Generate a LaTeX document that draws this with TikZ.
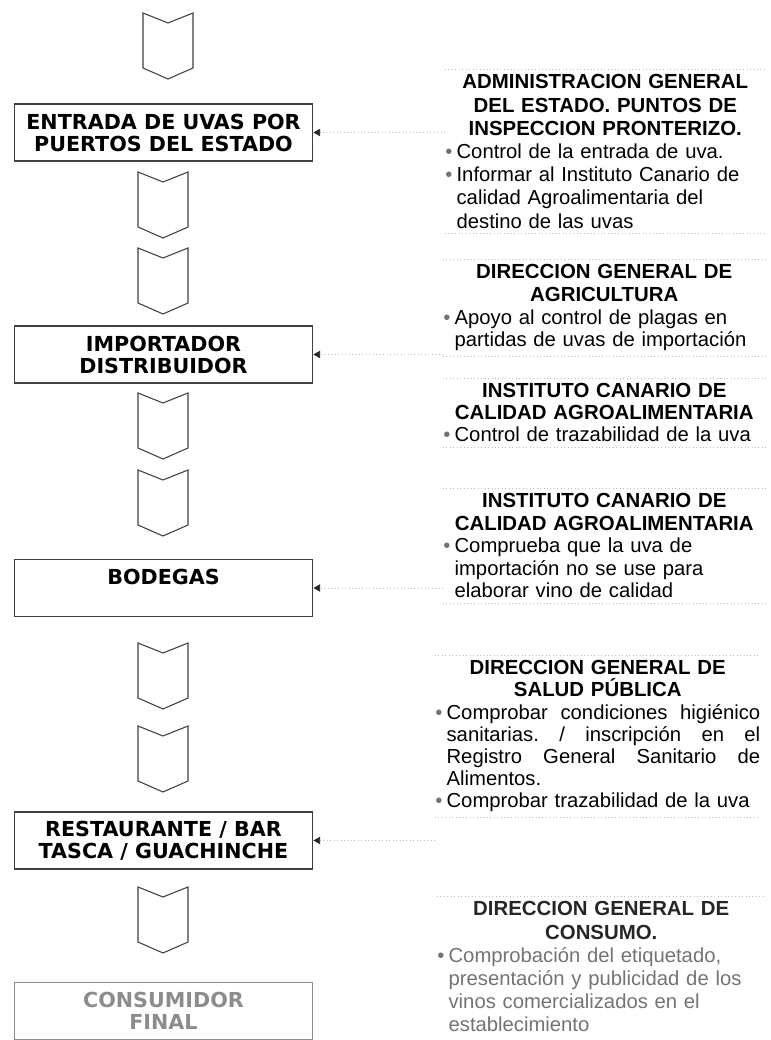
\documentclass[tikz,border=0pt]{standalone}
\usepackage{fontspec}
\setmainfont{Liberation Sans}
\newfontfamily\cajafont{DejaVu Sans}
\usetikzlibrary{arrows.meta,calc}

\tikzset{
  caja/.style={draw=black!75,line width=0.9pt,minimum width=224pt,minimum height=42.75pt,
    inner sep=0pt,align=center,font=\cajafont\bfseries\fontsize{15.5}{16.5}\selectfont},
  flecha/.style={draw=black!75,line width=0.8pt},
  bloque/.style 2 args={anchor=north west,inner xsep=0pt,inner ysep=4pt,text width=#1,
    font=\fontsize{15.2}{#2}\selectfont},
  sep/.style={draw=black!25,dotted,line width=0.6pt},
  enlace/.style={draw=black!25,dotted,line width=0.6pt,
    -{Triangle[length=5pt,width=5.5pt,color=black!85]}},
}
\newcommand{\titulo}[1]{{\centering\bfseries\fontsize{15.3}{\the\baselineskip}\selectfont #1\par}}
\newenvironment{vinetas}{\begin{list}{\textcolor{black!55}{\textbullet}}{\setlength{\leftmargin}{8.5pt}%
  \setlength{\labelwidth}{8.5pt}\setlength{\labelsep}{0pt}\setlength{\itemsep}{0pt}%
  \setlength{\topsep}{0pt}\setlength{\partopsep}{0pt}\setlength{\parsep}{0pt}%
  \renewcommand{\makelabel}[1]{##1\hfil}}\raggedright}{\end{list}}
\newcommand{\linea}[1]{\leavevmode\hbox to\linewidth{#1}}

\begin{document}
\begin{tikzpicture}[x=0.75pt,y=-0.75pt]
\useasboundingbox (0,0) rectangle (771,1040);

% cadena de la uva
\node[caja] (entrada) at (163.5,132.5) {ENTRADA DE UVAS POR\\PUERTOS DEL ESTADO};
\node[caja] (importador) at (163.5,354.5) {IMPORTADOR\\DISTRIBUIDOR};
\node[caja] (bodegas) at (163.5,588) {BODEGAS\\\phantom{B}};
\node[caja] (restaurante) at (163.5,840.5) {RESTAURANTE / BAR\\TASCA / GUACHINCHE};
\node[caja,draw=black!45,text=black!45] (consumidor) at (163.5,1011) {CONSUMIDOR\\FINAL};

\draw[flecha] (143,13) -- ++(25,10) -- ++(25,-10) -- ++(0,55) -- ++(-25,11) -- ++(-25,-11) -- cycle;
\draw[flecha] (138,172) -- ++(25,10) -- ++(25,-10) -- ++(0,55) -- ++(-25,11) -- ++(-25,-11) -- cycle;
\draw[flecha] (138,248) -- ++(25,10) -- ++(25,-10) -- ++(0,55) -- ++(-25,11) -- ++(-25,-11) -- cycle;
\draw[flecha] (138,393) -- ++(25,10) -- ++(25,-10) -- ++(0,55) -- ++(-25,11) -- ++(-25,-11) -- cycle;
\draw[flecha] (138,470) -- ++(25,10) -- ++(25,-10) -- ++(0,55) -- ++(-25,11) -- ++(-25,-11) -- cycle;
\draw[flecha] (138,643) -- ++(25,10) -- ++(25,-10) -- ++(0,55) -- ++(-25,11) -- ++(-25,-11) -- cycle;
\draw[flecha] (138,726) -- ++(25,10) -- ++(25,-10) -- ++(0,55) -- ++(-25,11) -- ++(-25,-11) -- cycle;
\draw[flecha] (138,887) -- ++(25,10) -- ++(25,-10) -- ++(0,55) -- ++(-25,11) -- ++(-25,-11) -- cycle;

% organismos de control
\node[bloque={240pt}{17.4pt}] (admin) at (445,69) {\titulo{ADMINISTRACION GENERAL\\DEL ESTADO. PUNTOS DE\\INSPECCION PRONTERIZO.}
\begin{vinetas}
\item Control de la entrada de uva.
\item Informar al Instituto Canario de\newline calidad Agroalimentaria del\newline destino de las uvas
\end{vinetas}};

\node[bloque={241.5pt}{17pt}] (agricultura) at (443,259) {\titulo{DIRECCION GENERAL DE\\AGRICULTURA}
\begin{vinetas}
\item Apoyo al control de plagas en\newline partidas de uvas de importación
\end{vinetas}};

\node[bloque={241.5pt}{16.5pt}] (icca) at (443,378) {\titulo{INSTITUTO CANARIO DE\\CALIDAD AGROALIMENTARIA}
\begin{vinetas}
\item Control de trazabilidad de la uva
\end{vinetas}};

\node[bloque={241.5pt}{16.9pt}] (iccab) at (443,488) {\titulo{INSTITUTO CANARIO DE\\CALIDAD AGROALIMENTARIA}
\begin{vinetas}
\item Comprueba que la uva de\newline importación no se use para\newline elaborar vino de calidad
\end{vinetas}};

\node[bloque={243.75pt}{16.6pt}] (salud) at (435,655) {\titulo{DIRECCION GENERAL DE\\SALUD PÚBLICA}
\begin{vinetas}
\item \linea{Comprobar\hfill condiciones\hfill higiénico}\newline
  \linea{sanitarias.\hfill /\hfill inscripción\hfill en\hfill el}\newline
  \linea{Registro\hfill General\hfill Sanitario\hfill de}\newline Alimentos.
\item Comprobar trazabilidad de la uva
\end{vinetas}};

\node[bloque={246pt}{17.4pt},text=black!55] (consumo) at (437,896) {\titulo{\color{black!85}DIRECCION GENERAL DE\\CONSUMO.}
\begin{vinetas}
\item Comprobación del etiquetado,\newline presentación y publicidad de los\newline vinos comercializados en el\newline establecimiento
\end{vinetas}};

\draw[sep] (admin.north west) -- (admin.north east);
\draw[sep] (admin.south west) -- (admin.south east);
\draw[sep] (agricultura.north west) -- (agricultura.north east);
\draw[sep] (agricultura.south west) -- (agricultura.south east);
\draw[sep] (icca.north west) -- (icca.north east);
\draw[sep] (icca.south west) -- (icca.south east);
\draw[sep] (iccab.north west) -- (iccab.north east);
\draw[sep] (iccab.south west) -- (iccab.south east);
\draw[sep] (salud.north west) -- (salud.north east);
\draw[sep] (salud.south west) -- (salud.south east);
\draw[sep] (consumo.north west) -- (consumo.north east);

\draw[enlace] (admin.west |- entrada.east) -- (entrada.east);
\draw[enlace] (agricultura.west |- importador.east) -- (importador.east);
\draw[enlace] (iccab.west |- bodegas.east) -- (bodegas.east);
\draw[enlace] (salud.west |- restaurante.east) -- (restaurante.east);

\end{tikzpicture}
\end{document}
